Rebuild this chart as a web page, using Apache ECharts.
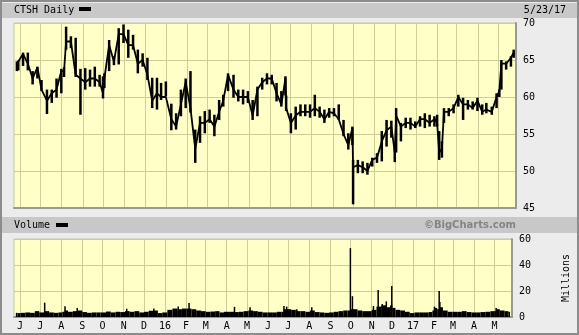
<!DOCTYPE html>
<html>
<head>
  <meta charset="utf-8" />
  <title>CTSH Daily</title>
  <script src="https://cdn.jsdelivr.net/npm/echarts@6/dist/echarts.min.js"></script>
  <style>
    * { margin: 0; padding: 0; }
    #chart-container { width: 579px; height: 335px; }
  </style>
</head>
<body>
  <div id="chart-container"></div>
  <script>
    // weekly (plus a few key days) price readings
    const priceDates = [
      '2015-05-27','2015-05-29','2015-06-05','2015-06-12','2015-06-19','2015-06-26','2015-07-02','2015-07-10','2015-07-17','2015-07-24','2015-07-31','2015-08-04','2015-08-07','2015-08-14','2015-08-21','2015-08-28','2015-09-04','2015-09-11','2015-09-18','2015-09-25','2015-09-30','2015-10-02','2015-10-09','2015-10-16','2015-10-23','2015-10-30','2015-11-06','2015-11-13','2015-11-20','2015-11-27','2015-12-04','2015-12-11','2015-12-18','2015-12-24','2015-12-31',
      '2016-01-08','2016-01-15','2016-01-22','2016-01-29','2016-02-05','2016-02-12','2016-02-19','2016-02-26','2016-03-04','2016-03-11','2016-03-18','2016-03-24','2016-03-31','2016-04-08','2016-04-15','2016-04-22','2016-04-29','2016-05-06','2016-05-13','2016-05-20','2016-05-27','2016-06-03','2016-06-10','2016-06-17','2016-06-23','2016-06-24','2016-07-01','2016-07-08','2016-07-15','2016-07-22','2016-07-29','2016-08-05','2016-08-12','2016-08-19','2016-08-26','2016-09-02','2016-09-09','2016-09-16','2016-09-23','2016-09-29','2016-09-30','2016-10-07','2016-10-14','2016-10-21','2016-10-28','2016-11-04','2016-11-11','2016-11-18','2016-11-25','2016-11-30','2016-12-02','2016-12-09','2016-12-16','2016-12-23','2016-12-30',
      '2017-01-06','2017-01-13','2017-01-20','2017-01-27','2017-01-31','2017-02-03','2017-02-07','2017-02-10','2017-02-17','2017-02-24','2017-03-03','2017-03-10','2017-03-17','2017-03-24','2017-03-31','2017-04-07','2017-04-13','2017-04-21','2017-04-28','2017-05-02','2017-05-05','2017-05-12','2017-05-19','2017-05-23'
    ];
    const priceLow = [
      63.5,63.6,64.2,63.6,61.7,62.5,60.8,57.7,59.2,59.9,60.5,62.7,66.4,66.6,62.7,57.6,61.0,61.4,61.4,61.4,59.8,61.2,63.5,64.3,64.4,67.3,65.3,66.4,63.2,64.1,62.3,58.5,58.3,59.6,60.1,
      55.5,55.6,57.4,58.5,57.9,51.1,53.8,55.1,56.5,54.7,56.9,58.7,60.8,59.9,59.4,59.0,59.2,56.9,57.4,61.0,61.7,61.7,59.4,58.7,60.2,58.1,55.1,55.6,57.4,57.4,57.2,57.4,57.2,56.5,57.2,57.4,56.9,54.7,52.9,53.5,45.5,49.7,49.7,49.5,50.6,51.1,51.3,53.3,54.5,51.2,52.5,54.0,55.8,55.6,55.8,
      56.0,55.8,56.0,56.0,56.0,51.5,51.8,56.5,57.4,57.8,58.7,56.9,58.3,58.3,58.1,57.6,57.8,57.6,58.5,60.0,61.0,63.7,64.1,65.3
    ];
    const priceHigh = [
      64.8,64.9,66.0,66.0,63.5,64.1,62.3,61.0,61.0,62.5,63.8,64.0,69.5,68.2,68.0,63.8,63.9,63.7,64.1,63.0,62.8,63.2,67.7,65.5,69.3,69.8,69.1,68.4,66.4,65.9,65.3,62.6,62.6,61.9,62.1,
      59.1,57.8,61.0,62.5,63.5,55.6,57.4,58.1,58.3,57.6,59.6,60.3,63.2,63.0,61.0,61.0,60.8,59.6,61.4,62.6,63.2,63.0,61.9,60.8,62.8,60.2,57.8,58.7,59.0,59.0,59.0,60.3,58.7,58.3,58.5,58.5,59.0,56.9,55.1,56.0,51.5,51.5,51.3,51.1,51.8,52.4,55.4,56.9,56.8,54.0,58.5,56.5,57.2,57.2,56.7,
      57.4,57.8,57.6,57.4,57.6,55.4,54.0,58.5,58.5,59.0,60.3,59.9,59.6,59.4,59.9,59.0,59.2,58.7,60.5,61.0,65.0,64.8,65.5,66.4
    ];
    const priceClose = [
      64.5,64.5,65.8,64.5,62.5,64.0,61.0,59.5,60.5,61.0,63.5,63.5,67.5,67.5,63.0,62.5,62.0,62.5,62.5,62.0,60.5,62.5,67.0,64.8,68.5,68.5,67.0,67.0,64.5,65.0,63.0,59.5,60.5,60.0,60.0,
      57.0,56.0,59.0,62.0,58.5,53.0,56.5,56.5,57.0,56.0,58.0,59.5,63.0,61.0,60.0,60.0,60.0,57.5,61.0,62.0,62.5,62.5,60.5,59.0,62.5,58.5,56.5,57.5,58.0,58.0,58.0,58.5,58.0,57.0,58.0,57.8,57.0,55.0,53.5,55.8,50.5,50.8,50.5,50.0,51.5,51.8,54.0,55.5,56.0,52.5,57.5,56.0,56.5,56.5,56.0,
      57.0,57.0,56.5,57.0,56.5,52.5,53.0,58.0,58.0,58.5,60.0,59.0,59.0,58.5,59.5,58.0,58.3,58.0,60.0,60.8,64.5,64.5,65.3,66.0
    ];
    // volume in millions, one per price date
    const volBase = [
      3.2,3.0,3.2,3.5,3.2,4.5,3.5,4.5,3.5,3.2,3.5,4.0,5.0,4.0,4.5,5.0,3.8,3.2,3.5,3.5,3.5,3.5,4.2,3.5,4.0,3.8,4.5,4.0,4.5,3.5,4.0,4.8,5.0,3.0,3.5,
      5.5,6.5,6.0,6.5,6.5,6.0,5.0,4.5,4.0,4.2,4.5,3.5,4.0,4.0,3.8,4.0,4.5,5.0,4.5,4.0,3.5,3.5,3.5,4.0,4.0,6.0,6.0,5.5,4.5,4.5,4.0,5.0,3.8,3.5,3.2,3.5,4.0,4.5,5.0,5.0,6.0,6.0,5.0,4.5,4.5,5.5,8.0,9.0,7.5,9.0,7.0,5.5,5.0,4.0,3.0,
      3.5,3.5,3.5,3.8,5.0,7.0,6.0,7.5,5.0,4.0,4.0,4.0,4.5,3.8,3.5,3.5,3.8,4.0,4.5,4.5,6.0,5.0,4.5,4.0
    ];
    const spikeDates = ['2015-07-07','2015-08-06','2015-08-24','2015-11-05','2015-12-15','2016-01-20','2016-02-05','2016-04-12','2016-05-05','2016-06-24','2016-06-28','2016-07-13','2016-08-04','2016-09-30','2016-10-03','2016-11-03','2016-11-10','2016-11-16','2016-11-22','2016-11-30','2017-02-01','2017-02-08','2017-02-09','2017-05-03'];
    const spikeVol = [11, 8.2, 7, 6.4, 6.6, 8, 10.8, 7.8, 7.5, 8.5, 8, 6, 7.5, 53, 16, 8.5, 20.7, 10, 12, 23.8, 8, 20, 11.5, 7];

    const monthTicks = ['2015-06-01','2015-07-01','2015-08-01','2015-09-01','2015-10-01','2015-11-01','2015-12-01','2016-01-01','2016-02-01','2016-03-01','2016-04-01','2016-05-01','2016-06-01','2016-07-01','2016-08-01','2016-09-01','2016-10-01','2016-11-01','2016-12-01','2017-01-01','2017-02-01','2017-03-01','2017-04-01','2017-05-01'];
    const monthLabels = ['J','J','A','S','O','N','D','16','F','M','A','M','J','J','A','S','O','N','D','17','F','M','A','M'];

    const ts = s => Date.parse(s + 'T12:00:00Z');
    const monthTs = monthTicks.map(s => Date.parse(s + 'T00:00:00Z'));
    const xMin = Date.UTC(2015, 4, 23, 6);
    const xMax = Date.UTC(2017, 4, 26, 22);

    const rangeData = priceDates.map((d, i) => [ts(d), priceLow[i], priceHigh[i]]);
    const closeData = priceDates.map((d, i) => [ts(d), priceClose[i]]);
    const volData = priceDates.map((d, i) => {
      const t = ts(d);
      const prev = i > 0 ? ts(priceDates[i - 1]) : t - 3 * 86400000;
      const next = i < priceDates.length - 1 ? ts(priceDates[i + 1]) : t + 86400000;
      return [t, volBase[i], (prev + t) / 2, (t + next) / 2];
    });
    const spikeData = spikeDates.map((d, i) => [ts(d), spikeVol[i]]);

    const mono = 'DejaVu Sans Mono';
    const gridColor = '#cfcd96';

    var dom = document.getElementById('chart-container');
    var myChart = echarts.init(dom, null, { renderer: 'canvas' });

    const monthLabel = v => {
      let best = 0;
      monthTs.forEach((m, i) => { if (Math.abs(m - v) < Math.abs(monthTs[best] - v)) best = i; });
      return monthLabels[best];
    };

    const xAxisBase = (gi, showLabel) => ({
      type: 'value',
      gridIndex: gi,
      min: xMin,
      max: xMax,
      axisLine: { show: true, onZero: false, lineStyle: { color: '#999', width: 2 } },
      axisTick: { show: false, customValues: monthTs },
      axisLabel: {
        show: showLabel,
        customValues: monthTs,
        hideOverlap: false,
        margin: 4,
        fontFamily: mono,
        fontSize: 10,
        color: '#000',
        formatter: monthLabel
      },
      splitLine: { show: true, lineStyle: { color: gridColor, width: 1 } }
    });

    var option = {
      animation: false,
      backgroundColor: '#ececec',
      graphic: [
        { type: 'rect', shape: { x: 1, y: 1, width: 577, height: 333 }, style: { fill: 'none', stroke: '#8c8c8c', lineWidth: 2 } },
        { type: 'rect', shape: { x: 2, y: 3, width: 575, height: 15 }, style: { fill: '#c8c8c8' } },
        { type: 'text', x: 14, y: 10, style: { text: 'CTSH Daily', font: '10px "DejaVu Sans Mono"', fill: '#000', verticalAlign: 'middle' } },
        { type: 'rect', shape: { x: 79, y: 7, width: 12, height: 4 }, style: { fill: '#000' } },
        { type: 'text', x: 566, y: 10, style: { text: '5/23/17', font: '10px "DejaVu Sans Mono"', fill: '#000', align: 'right', verticalAlign: 'middle' } },
        { type: 'rect', shape: { x: 2, y: 217, width: 575, height: 16 }, style: { fill: '#c8c8c8' } },
        { type: 'text', x: 14, y: 225, style: { text: 'Volume', font: '10px "DejaVu Sans Mono"', fill: '#000', verticalAlign: 'middle' } },
        { type: 'rect', shape: { x: 56, y: 223, width: 12, height: 4 }, style: { fill: '#000' } },
        { type: 'text', x: 516, y: 225, style: { text: '©BigCharts.com', font: 'bold 10px "DejaVu Sans"', fill: '#858585', align: 'right', verticalAlign: 'middle' } }
      ],
      grid: [
        { left: 14, top: 23, width: 502, height: 185, show: true, backgroundColor: '#ffffc8', borderColor: '#c4c4a8', borderWidth: 1 },
        { left: 14, top: 239, width: 502, height: 78, show: true, backgroundColor: '#ffffc8', borderColor: '#c4c4a8', borderWidth: 1 }
      ],
      xAxis: [xAxisBase(0, false), xAxisBase(1, true)],
      yAxis: [
        {
          type: 'value', gridIndex: 0, position: 'right', min: 45, max: 70, interval: 5,
          axisLine: { show: true, lineStyle: { color: '#999', width: 2 } },
          axisTick: { show: false },
          axisLabel: { margin: 7, fontFamily: mono, fontSize: 10, color: '#000' },
          splitLine: { show: true, lineStyle: { color: gridColor, width: 1 } }
        },
        {
          type: 'value', gridIndex: 1, position: 'right', min: 0, max: 60, interval: 20,
          name: 'Millions', nameLocation: 'middle', nameRotate: 90, nameGap: 49,
          nameTextStyle: { fontFamily: mono, fontSize: 10, color: '#000' },
          axisLine: { show: true, lineStyle: { color: '#999', width: 2 } },
          axisTick: { show: false },
          axisLabel: { margin: 7, fontFamily: mono, fontSize: 10, color: '#000' },
          splitLine: { show: true, lineStyle: { color: gridColor, width: 1 } }
        }
      ],
      series: [
        {
          // weekly high-low range as a short block
          type: 'custom', xAxisIndex: 0, yAxisIndex: 0, clip: true,
          encode: { x: 0, y: [1, 2] },
          data: rangeData,
          renderItem: (params, api) => {
            const lo = api.coord([api.value(0), api.value(1)]);
            const hi = api.coord([api.value(0), api.value(2)]);
            return { type: 'rect', shape: { x: lo[0] - 1.25, y: hi[1], width: 2.5, height: lo[1] - hi[1] }, style: { fill: '#000' } };
          }
        },
        {
          type: 'line', xAxisIndex: 0, yAxisIndex: 0, data: closeData,
          symbol: 'none', lineStyle: { color: '#000', width: 1.8 }
        },
        {
          type: 'custom', xAxisIndex: 1, yAxisIndex: 1, clip: true,
          encode: { x: 0, y: 1 },
          data: volData,
          renderItem: (params, api) => {
            const top = api.coord([api.value(0), api.value(1)]);
            const l = api.coord([api.value(2), 0]);
            const r = api.coord([api.value(3), 0]);
            return { type: 'rect', shape: { x: l[0], y: top[1], width: r[0] - l[0], height: l[1] - top[1] }, style: { fill: '#000' } };
          }
        },
        {
          type: 'custom', xAxisIndex: 1, yAxisIndex: 1, clip: true,
          encode: { x: 0, y: 1 },
          data: spikeData,
          renderItem: (params, api) => {
            const top = api.coord([api.value(0), api.value(1)]);
            const base = api.coord([api.value(0), 0]);
            return { type: 'rect', shape: { x: top[0] - 0.75, y: top[1], width: 1.5, height: base[1] - top[1] }, style: { fill: '#000' } };
          }
        }
      ]
    };

    myChart.setOption(option);
    window.addEventListener('resize', myChart.resize);
  </script>
</body>
</html>
